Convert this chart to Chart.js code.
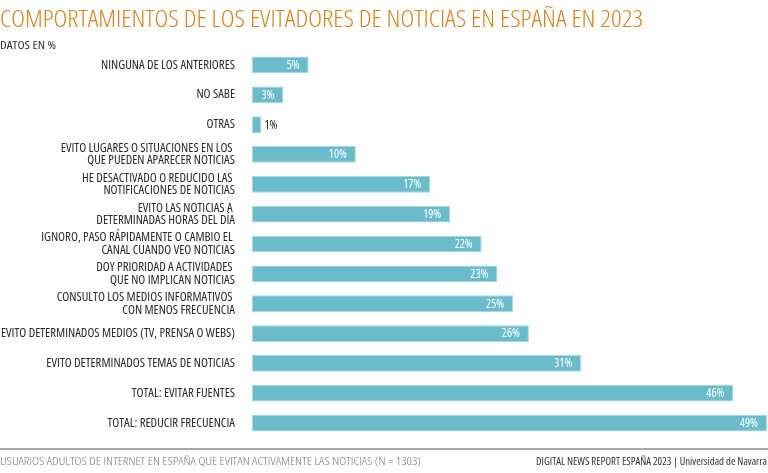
<!DOCTYPE html>
<html>
<head>
<meta charset="utf-8">
<script src="https://cdn.jsdelivr.net/npm/chart.js@4/dist/chart.umd.min.js"></script>
<style>
  html, body { margin: 0; padding: 0; background: #fff; }
  #wrap { position: relative; width: 768px; height: 473px; overflow: hidden; }
  canvas { position: absolute; left: 0; top: 0; }
  .txt { position: absolute; white-space: nowrap; transform-origin: 0 0; font-family: "Open Sans", sans-serif; font-stretch: 75%; }
  #title { left: 0; top: 1px; font-size: 24px; color: #d6821c; font-weight: 300; }
  #sub { left: 0; top: 38px; font-size: 10.5px; color: #333; }
  #rule { position: absolute; left: 0; top: 448px; width: 768px; height: 2px; background: #a8a8a8; }
  #foot { left: 0; top: 453px; font-size: 11.5px; color: #7a7a7a; font-weight: 300; }
  #src { top: 454px; font-size: 10.5px; color: #333; }
</style>
</head>
<body>
<div id="wrap">
  <canvas id="c" width="768" height="473"></canvas>
  <div class="txt" id="title">COMPORTAMIENTOS DE LOS EVITADORES DE NOTICIAS EN ESPAÑA EN 2023</div>
  <div class="txt" id="sub">DATOS EN %</div>
  <div id="rule"></div>
  <div class="txt" id="foot">USUARIOS ADULTOS DE INTERNET EN ESPAÑA QUE EVITAN ACTIVAMENTE LAS NOTICIAS (N = 1303)</div>
  <div class="txt" id="src">DIGITAL NEWS REPORT ESPAÑA 2023 | Universidad de Navarra</div>
</div>
<script>
const categories = [
  ["NINGUNA DE LOS ANTERIORES"],
  ["NO SABE"],
  ["OTRAS"],
  ["EVITO LUGARES O SITUACIONES EN LOS ", "QUE PUEDEN APARECER NOTICIAS"],
  ["HE DESACTIVADO O REDUCIDO LAS ", "NOTIFICACIONES DE NOTICIAS"],
  ["EVITO LAS NOTICIAS A ", "DETERMINADAS HORAS DEL DÍA"],
  ["IGNORO, PASO RÁPIDAMENTE O CAMBIO EL ", "CANAL CUANDO VEO NOTICIAS"],
  ["DOY PRIORIDAD A ACTIVIDADES ", "QUE NO IMPLICAN NOTICIAS"],
  ["CONSULTO LOS MEDIOS INFORMATIVOS ", "CON MENOS FRECUENCIA"],
  ["EVITO DETERMINADOS MEDIOS (TV, PRENSA O WEBS)"],
  ["EVITO DETERMINADOS TEMAS DE NOTICIAS"],
  ["TOTAL: EVITAR FUENTES"],
  ["TOTAL: REDUCIR FRECUENCIA"]
];
const values = [5.4, 3.0, 0.9, 9.9, 17.0, 18.9, 21.9, 23.4, 24.9, 26.4, 31.4, 45.9, 49.1];

const FONT = '"Open Sans", sans-serif';

function fitWidth(id, w, left) {
  const el = document.getElementById(id);
  const r = el.getBoundingClientRect().width;
  el.style.transform = 'scaleX(' + (w / r) + ')';
  if (left !== undefined) el.style.left = left + 'px';
}
fitWidth('title', 643);
fitWidth('sub', 56);
fitWidth('foot', 421);
fitWidth('src', 231, 536);

const valueLabels = {
  id: 'valueLabels',
  afterDatasetsDraw(chart) {
    const ctx = chart.ctx;
    const meta = chart.getDatasetMeta(0);
    ctx.save();
    ctx.font = '12px ' + FONT;
    if ('fontStretch' in ctx) ctx.fontStretch = 'semi-condensed';
    ctx.textBaseline = 'middle';
    meta.data.forEach((bar, i) => {
      const txt = Math.round(values[i]) + '%';
      const w = bar.x - bar.base;
      if (w > 28) {
        ctx.fillStyle = '#ffffff';
        ctx.textAlign = 'right';
        ctx.fillText(txt, bar.x - 9, bar.y + 0.5);
      } else {
        ctx.fillStyle = '#222222';
        ctx.textAlign = 'left';
        ctx.fillText(txt, bar.x + 3, bar.y + 0.5);
      }
    });
    ctx.restore();
  }
};

new Chart(document.getElementById('c'), {
  type: 'bar',
  data: {
    labels: categories,
    datasets: [{
      data: values,
      backgroundColor: '#6bbccb',
      borderColor: '#a6d9e2',
      borderWidth: 1,
      borderSkipped: false,
      barPercentage: 0.56,
      categoryPercentage: 1.0
    }]
  },
  options: {
    indexAxis: 'y',
    responsive: false,
    animation: false,
    layout: { padding: { top: 50, bottom: 35, left: 0, right: 0 } },
    plugins: { legend: { display: false }, tooltip: { enabled: false }, title: { display: false } },
    scales: {
      x: {
        display: false,
        min: 0,
        max: 49.2
      },
      y: {
        afterFit(scale) { scale.width = 252; },
        grid: { display: false, drawTicks: false },
        border: { display: false },
        ticks: {
          padding: 17,
          color: '#2a2a2a',
          font: { family: FONT, size: 12.8, weight: 'condensed', lineHeight: 0.98 },
          autoSkip: false
        }
      }
    }
  },
  plugins: [valueLabels]
});
</script>
</body>
</html>
